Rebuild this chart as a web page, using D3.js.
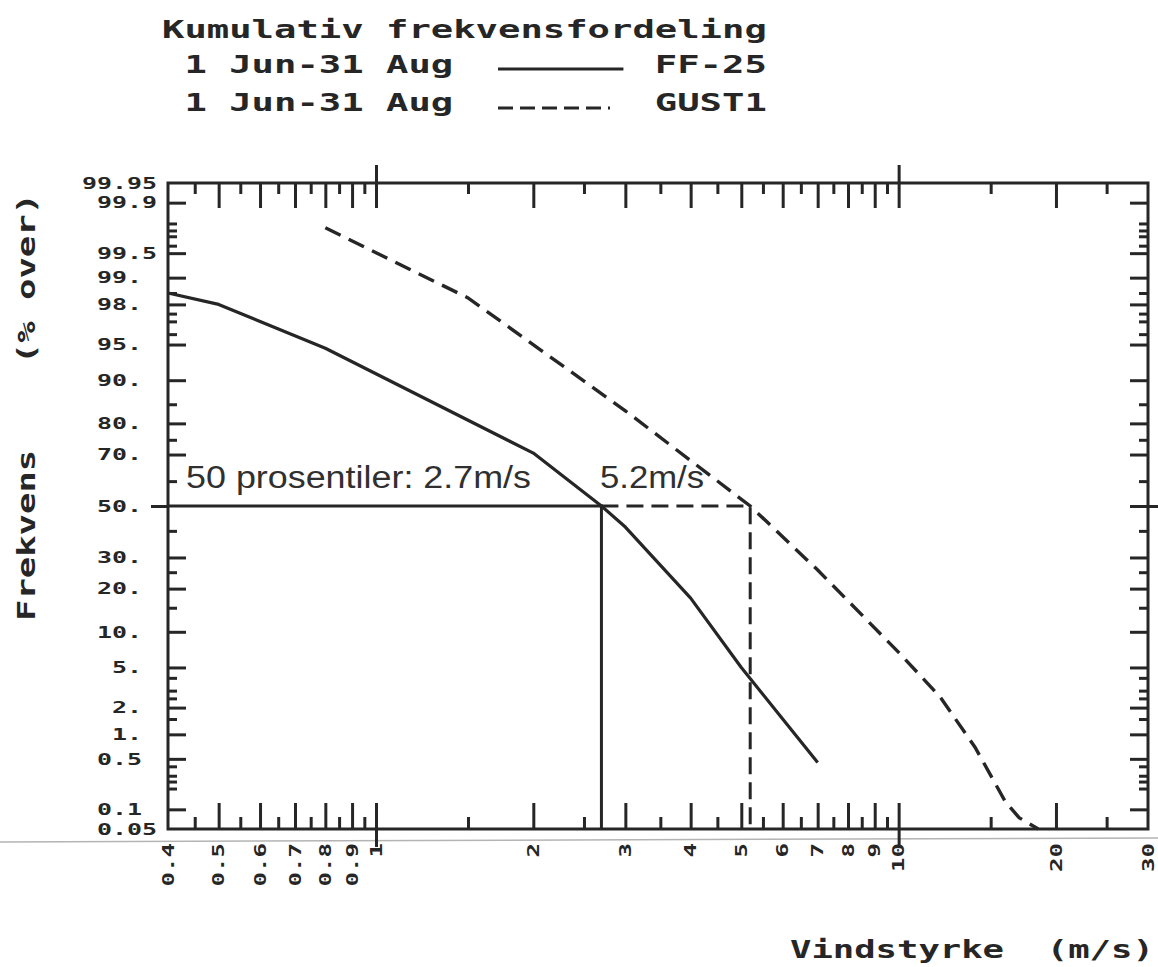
<!DOCTYPE html>
<html>
<head>
<meta charset="utf-8">
<script src="https://cdn.jsdelivr.net/npm/d3@7"></script>
<style>
  body { margin: 0; background: #fff; }
  svg { display: block; }
</style>
</head>
<body>
<div id="chart"></div>
<script>

//FF-25 : wind speed (m/s) and % of time above it
const FF_WIND = [0.4, 0.5, 0.8, 2, 2.7, 3, 4, 5, 6, 7];
const FF_OVER = [98.5, 98.0, 94.6, 70.5, 50, 41.5, 17.4, 5.0, 1.5, 0.45];

//GUST1
const GUST_WIND = [0.8, 1.5, 3, 5.2, 7, 10, 12, 14, 16, 17, 18.5];
const GUST_OVER = [99.77, 98.3, 83.4, 50, 25.7, 6.8, 2.6, 0.7, 0.13, 0.075, 0.05];

//50 percentiles
const MEDIAN_FF = 2.7;
const MEDIAN_GUST = 5.2;

//x axis ticks
const X_LABELS = ["0.4","0.5","0.6","0.7","0.8","0.9","1","2","3","4","5","6","7","8","9","10","20","30"];
const X_LONG = [0.5, 0.6, 0.7, 0.8, 0.9, 2, 3, 4, 5, 6, 7, 8, 9, 20];
const X_SHORT = [0.45, 0.55, 0.65, 0.75, 0.85, 0.95, 1.5, 2.5, 3.5, 4.5, 5.5, 6.5, 7.5, 8.5, 9.5, 15, 25];
const X_CROSS = [1, 10];

//y axis ticks (% over)
const Y_VALUES = [99.95, 99.9, 99.5, 99, 98, 95, 90, 80, 70, 50, 30, 20, 10, 5, 2, 1, 0.5, 0.1, 0.05];
const Y_LABELS = ["99.95","99.9","99.5","99. ","98. ","95. ","90. ","80. ","70. ","50. ","30. ","20. ","10. ","5. ","2. ","1. ","0.5 ","0.1 ","0.05"];
const Y_LONG = [99.9, 99.5, 99, 98, 95, 90, 80, 70, 30, 20, 10, 5, 2, 1, 0.5, 0.1];
const Y_SHORT = [99.8, 99.75, 99.7, 99.6, 98.5, 97.5, 97, 96, 85, 75, 60, 40, 25, 15, 4, 3, 2.5, 1.5, 0.4, 0.3, 0.25, 0.2];

const TITLE = "Kumulativ frekvensfordeling";
const PERIOD = "1 Jun-31 Aug";
const SERIES = ["FF-25", "GUST1"];

//inverse of the normal distribution (Acklam)
function probit(p) {
	const a = [-3.969683028665376e+01, 2.209460984245205e+02, -2.759285104469687e+02, 1.383577518672690e+02, -3.066479806614716e+01, 2.506628277459239e+00];
	const b = [-5.447609879822406e+01, 1.615858368580409e+02, -1.556989798598866e+02, 6.680131188771972e+01, -1.328068155288572e+01];
	const c = [-7.784894002430293e-03, -3.223964580411365e-01, -2.400758277161838e+00, -2.549732539343734e+00, 4.374664141464968e+00, 2.938163982698783e+00];
	const d = [7.784695709041462e-03, 3.224671290700398e-01, 2.445134137142996e+00, 3.754408661907416e+00];
	let q, r;
	if (p < 0.02425) {
		q = Math.sqrt(-2 * Math.log(p));
		return (((((c[0]*q+c[1])*q+c[2])*q+c[3])*q+c[4])*q+c[5]) / ((((d[0]*q+d[1])*q+d[2])*q+d[3])*q+1);
	}
	if (p > 1 - 0.02425) {
		q = Math.sqrt(-2 * Math.log(1 - p));
		return -(((((c[0]*q+c[1])*q+c[2])*q+c[3])*q+c[4])*q+c[5]) / ((((d[0]*q+d[1])*q+d[2])*q+d[3])*q+1);
	}
	q = p - 0.5;
	r = q * q;
	return (((((a[0]*r+a[1])*r+a[2])*r+a[3])*r+a[4])*r+a[5])*q / (((((b[0]*r+b[1])*r+b[2])*r+b[3])*r+b[4])*r+1);
}

const width = 1158;
const height = 967;
const plotLeft = 168, plotRight = 1148, plotTop = 183, plotBottom = 829;
const ink = "#262626";

let xScale = d3.scaleLog()
	.domain([0.4, 30])
	.range([plotLeft, plotRight]);

let zScale = d3.scaleLinear()
	.domain([probit(0.0005), probit(0.9995)])
	.range([plotBottom, plotTop]);

let z = p => probit(p / 100);
let yPos = p => zScale(z(p));

let svg = d3.select("#chart").append("svg")
	.attr("width", width)
	.attr("height", height);

//monospaced plotter style text, stretched to a fixed advance
function plotText(parent, str, x, y, adv, size) {
	return parent.append("text")
		.attr("x", x)
		.attr("y", y)
		.attr("font-family", "DejaVu Sans Mono")
		.attr("font-weight", "bold")
		.attr("font-size", size)
		.attr("fill", ink)
		.attr("textLength", str.length * adv)
		.attr("lengthAdjust", "spacingAndGlyphs")
		.text(str.replace(/ /g, "\u00a0"));
}

//scan edge
svg.append("line")
	.attr("x1", 0).attr("y1", plotBottom + 13)
	.attr("x2", width).attr("y2", plotBottom + 9)
	.attr("stroke", "#b4b4b4")
	.attr("stroke-width", 1.5);

//title and legend
const adv = 22.4;
plotText(svg, TITLE, 162, 38, adv, 24);
plotText(svg, " " + PERIOD, 162, 73, adv, 24);
plotText(svg, " " + PERIOD, 162, 111, adv, 24);
plotText(svg, SERIES[0], 162 + 22 * adv, 73, adv, 24);
plotText(svg, SERIES[1], 162 + 22 * adv, 111, adv, 24);

svg.append("line")
	.attr("x1", 162 + 15 * adv).attr("x2", 162 + 20.6 * adv)
	.attr("y1", 69).attr("y2", 69)
	.attr("stroke", ink).attr("stroke-width", 3);
svg.append("line")
	.attr("x1", 162 + 15 * adv).attr("x2", 162 + 20 * adv)
	.attr("y1", 108).attr("y2", 108)
	.attr("stroke", ink).attr("stroke-width", 3)
	.attr("stroke-dasharray", "15 7");

//axis titles
plotText(svg, "Frekvens    (% over)", 0, 0, 21.4, 24)
	.attr("text-anchor", "middle")
	.attr("transform", "translate(35,407) rotate(-90)");
plotText(svg, "Vindstyrke  (m/s)", 790, 958, 21.4, 24);

//ticks with d3 axes
function tickAxis(axis, values, size, tx, ty) {
	let g = svg.append("g")
		.attr("transform", `translate(${tx},${ty})`)
		.call(axis.tickValues(values).tickSize(size).tickFormat(""));
	g.select(".domain").remove();
	g.selectAll("line")
		.attr("stroke", ink)
		.attr("stroke-width", 3);
	return g;
}

//x-axis ticks, bottom and top
tickAxis(d3.axisTop(xScale), X_LONG, 26, 0, plotBottom);
tickAxis(d3.axisTop(xScale), X_SHORT, 12, 0, plotBottom);
tickAxis(d3.axisBottom(xScale), X_LONG, 25, 0, plotTop);
tickAxis(d3.axisBottom(xScale), X_SHORT, 11, 0, plotTop);
tickAxis(d3.axisBottom(xScale), X_CROSS, 43, 0, plotTop - 18);
tickAxis(d3.axisTop(xScale), X_CROSS, 44, 0, plotBottom + 18);

//y-axis ticks, left and right
tickAxis(d3.axisRight(zScale), Y_LONG.map(z), 18, plotLeft, 0);
tickAxis(d3.axisRight(zScale), Y_SHORT.map(z), 9, plotLeft, 0);
tickAxis(d3.axisLeft(zScale), Y_LONG.map(z), 18, plotRight, 0);
tickAxis(d3.axisLeft(zScale), Y_SHORT.map(z), 9, plotRight, 0);
tickAxis(d3.axisRight(zScale), [z(50)], 18, plotLeft - 17, 0);
tickAxis(d3.axisRight(zScale), [z(50)], 28, plotRight - 18, 0);

//frame
svg.append("rect")
	.attr("x", plotLeft)
	.attr("y", plotTop)
	.attr("width", plotRight - plotLeft)
	.attr("height", plotBottom - plotTop)
	.attr("fill", "none")
	.attr("stroke", ink)
	.attr("stroke-width", 3);

//y tick labels, right aligned in a fixed field
const yAdv = 15;
Y_VALUES.forEach((v, i) => {
	let s = Y_LABELS[i];
	plotText(svg, s.trimEnd(), 157 - s.length * yAdv, yPos(v), yAdv, 16)
		.attr("dy", "0.36em");
});

//x tick labels, rotated
const xAdv = 14.5;
X_LABELS.forEach(s => {
	let x = xScale(+s);
	plotText(svg, s, 0, 0, xAdv, 16)
		.attr("text-anchor", "end")
		.attr("dy", "0.36em")
		.attr("transform", `translate(${x},${plotBottom + 14}) rotate(-90)`);
});

let lineMaker = d3.line()
	.x(d => xScale(d[0]))
	.y(d => yPos(d[1]));

//median lines
svg.append("path")
	.attr("d", lineMaker([[0.4, 50], [MEDIAN_FF, 50], [MEDIAN_FF, 0.05]]))
	.attr("fill", "none")
	.attr("stroke", ink)
	.attr("stroke-width", 3);
svg.append("path")
	.attr("d", lineMaker([[MEDIAN_FF, 50], [MEDIAN_GUST, 50], [MEDIAN_GUST, 0.05]]))
	.attr("fill", "none")
	.attr("stroke", ink)
	.attr("stroke-width", 3)
	.attr("stroke-dasharray", "17 8");

//frequency curves
svg.append("path")
	.attr("d", lineMaker(d3.zip(FF_WIND, FF_OVER)))
	.attr("fill", "none")
	.attr("stroke", ink)
	.attr("stroke-width", 3.2)
	.attr("stroke-linejoin", "round");
svg.append("path")
	.attr("d", lineMaker(d3.zip(GUST_WIND, GUST_OVER)))
	.attr("fill", "none")
	.attr("stroke", ink)
	.attr("stroke-width", 3.4)
	.attr("stroke-dasharray", "17 9");

//percentile annotation
svg.append("text")
	.attr("x", 186)
	.attr("y", 488)
	.attr("font-family", "Liberation Sans")
	.attr("font-size", 31)
	.attr("fill", "#303030")
	.attr("textLength", 345)
	.attr("lengthAdjust", "spacingAndGlyphs")
	.text(`50 prosentiler: ${MEDIAN_FF}m/s`);
svg.append("text")
	.attr("x", 600)
	.attr("y", 488)
	.attr("font-family", "Liberation Sans")
	.attr("font-size", 31)
	.attr("fill", "#303030")
	.attr("textLength", 104)
	.attr("lengthAdjust", "spacingAndGlyphs")
	.text(`${MEDIAN_GUST}m/s`);

</script>
</body>
</html>
